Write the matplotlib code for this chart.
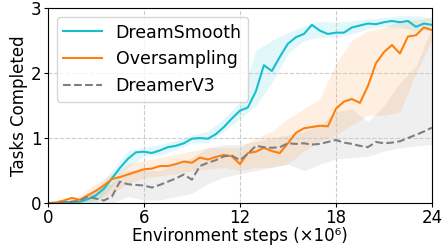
import matplotlib.pyplot as plt
import numpy as np

# mean curves, sampled every 0.5M steps
steps = np.arange(0, 24.01, 0.5)
dreamsmooth = [0, 0, 0.01, 0.02, 0.02, 0.06, 0.12, 0.22, 0.38, 0.54, 0.68, 0.78, 0.79,
               0.77, 0.81, 0.86, 0.88, 0.92, 0.99, 1.0, 0.99, 1.06, 1.17, 1.3, 1.42, 1.47,
               1.72, 2.12, 2.03, 2.25, 2.45, 2.55, 2.6, 2.74, 2.65, 2.6, 2.62, 2.62, 2.7,
               2.73, 2.76, 2.75, 2.78, 2.8, 2.78, 2.8, 2.71, 2.76, 2.74]
oversampling = [0, 0.01, 0.04, 0.08, 0.05, 0.12, 0.19, 0.27, 0.37, 0.4, 0.44, 0.48, 0.52,
                0.53, 0.57, 0.57, 0.6, 0.64, 0.62, 0.7, 0.67, 0.71, 0.74, 0.72, 0.6, 0.77,
                0.79, 0.85, 0.8, 0.77, 0.92, 1.08, 1.15, 1.17, 1.19, 1.18, 1.45, 1.56, 1.6,
                1.54, 1.8, 2.15, 2.32, 2.43, 2.3, 2.56, 2.58, 2.7, 2.66]
dreamerv3 = [0, 0, 0.01, 0.02, 0.04, 0.1, 0.07, 0.04, 0.1, 0.33, 0.29, 0.28, 0.27, 0.24,
             0.28, 0.33, 0.38, 0.44, 0.36, 0.57, 0.62, 0.66, 0.72, 0.73, 0.66, 0.76, 0.88,
             0.86, 0.85, 0.86, 0.92, 0.91, 0.92, 0.9, 0.91, 0.94, 0.97, 0.93, 0.91, 0.88,
             0.86, 0.94, 0.92, 0.93, 0.95, 1.0, 1.05, 1.1, 1.16]

# shaded ranges, sampled every 1M steps
band_steps = np.arange(0, 25)
ds_low = [0, 0, 0, 0.01, 0.25, 0.55, 0.72, 0.74, 0.82, 0.92, 0.93, 1.1, 1.3, 1.5, 1.85,
          2.3, 2.5, 2.55, 2.55, 2.6, 2.68, 2.72, 2.7, 2.65, 2.65]
ds_high = [0, 0.02, 0.05, 0.2, 0.5, 0.8, 0.86, 0.9, 0.96, 1.05, 1.1, 1.3, 1.55, 2.35, 2.5,
           2.62, 2.72, 2.8, 2.78, 2.8, 2.83, 2.85, 2.88, 2.88, 2.85]
os_low = [0, 0, 0, 0.05, 0.15, 0.3, 0.38, 0.42, 0.45, 0.5, 0.52, 0.55, 0.5, 0.55, 0.55,
          0.6, 0.8, 0.95, 1.05, 1.2, 1.35, 1.35, 1.4, 2.0, 2.5]
os_high = [0, 0.05, 0.12, 0.3, 0.45, 0.6, 0.65, 0.7, 0.75, 0.8, 0.85, 0.85, 0.85, 1.0, 1.1,
           1.3, 1.45, 1.6, 2.15, 2.5, 2.65, 2.7, 2.8, 2.82, 2.85]
dv_low = [0, 0, 0, 0, 0, 0.1, 0.05, 0.05, 0.1, 0.15, 0.3, 0.4, 0.45, 0.5, 0.55, 0.6, 0.5,
          0.6, 0.68, 0.7, 0.72, 0.8, 0.85, 0.88, 0.9]
dv_high = [0, 0.02, 0.08, 0.2, 0.3, 0.5, 0.5, 0.5, 0.6, 0.7, 0.85, 0.9, 0.9, 0.95, 1.0,
           1.05, 1.1, 1.2, 1.4, 1.45, 1.25, 1.5, 1.85, 2.1, 2.7]

c_ds = '#17becf'
c_os = '#ff7f0e'
c_dv = '#7f7f7f'

fig, ax = plt.subplots(figsize=(4.43, 2.48), dpi=100)
fig.subplots_adjust(left=0.108, right=0.975, bottom=0.181, top=0.968)

ax.fill_between(band_steps, dv_low, dv_high, color=c_dv, alpha=0.12, linewidth=0)
ax.fill_between(band_steps, os_low, os_high, color=c_os, alpha=0.12, linewidth=0)
ax.fill_between(band_steps, ds_low, ds_high, color=c_ds, alpha=0.12, linewidth=0)

ax.plot(steps, dreamsmooth, color=c_ds, lw=1.5, label='DreamSmooth')
ax.plot(steps, oversampling, color=c_os, lw=1.5, label='Oversampling')
ax.plot(steps, dreamerv3, color=c_dv, lw=1.5, ls='--', label='DreamerV3')

ax.set_xlim(0, 24)
ax.set_ylim(0, 3)
ax.set_xticks([0, 6, 12, 18, 24])
ax.set_yticks([0, 1, 2, 3])
ax.tick_params(labelsize=12, pad=1.5, length=3)
ax.grid(True, ls='--', color='#cccccc', lw=0.8)
ax.set_xlabel('Environment steps (×10⁶)', fontsize=12, labelpad=0)
ax.set_ylabel('Tasks Completed', fontsize=12, labelpad=2)
ax.legend(loc='upper left', fontsize=12.5, handlelength=2.2, borderaxespad=0.5)

fig.savefig('out.png')
